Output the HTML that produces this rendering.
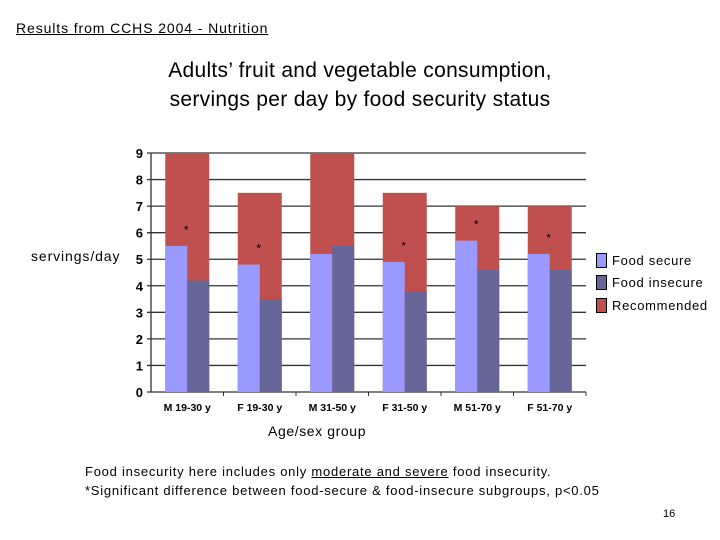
<!DOCTYPE html>
<html><head><meta charset="utf-8"><style>
body{margin:0;width:720px;height:540px;background:#fff;position:relative;overflow:hidden;font-family:"Liberation Sans","DejaVu Sans",sans-serif}
.t{position:absolute;white-space:nowrap}
</style></head><body>
<div class="t" style="left:16px;top:20px;font-size:14px;letter-spacing:0.9px;text-decoration:underline">Results from CCHS 2004 - Nutrition</div>
<div class="t" style="left:130px;top:56px;width:460px;text-align:center;font-size:21px;letter-spacing:0.3px;line-height:29px;white-space:normal">Adults’ fruit and vegetable consumption,<br>servings per day by food security status</div>
<div class="t" style="left:31px;top:248px;font-size:14px;letter-spacing:0.9px">servings/day</div>
<div class="t" style="left:268px;top:423px;font-size:14px;letter-spacing:0.6px">Age/sex group</div>
<div class="t" style="left:85px;top:462px;font-size:13px;letter-spacing:0.75px;line-height:19px">Food insecurity here includes only <u>moderate and severe</u> food insecurity.<br>*Significant difference between food-secure &amp; food-insecure subgroups, p&lt;0.05</div>
<div class="t" style="left:663px;top:508px;font-size:11px">16</div>
<svg id="c" width="720" height="540" style="position:absolute;left:0;top:0"></svg>
<div>
<div class="t" style="left:596px;top:253px;font-size:13px;letter-spacing:0.7px"><span style="display:inline-block;width:9px;height:13px;background:#9999ff;border:1px solid #000;vertical-align:-3px;margin-right:5px"></span>Food secure</div>
<div class="t" style="left:596px;top:275px;font-size:13px;letter-spacing:0.7px"><span style="display:inline-block;width:9px;height:13px;background:#666699;border:1px solid #000;vertical-align:-3px;margin-right:5px"></span>Food insecure</div>
<div class="t" style="left:596px;top:298px;font-size:13px;letter-spacing:0.7px"><span style="display:inline-block;width:9px;height:13px;background:#c0504d;border:1px solid #000;vertical-align:-3px;margin-right:5px"></span>Recommended</div>
</div>
<script>
const categories=["M 19-30 y","F 19-30 y","M 31-50 y","F 31-50 y","M 51-70 y","F 51-70 y"];
const secure=[5.5,4.8,5.2,4.9,5.7,5.2];
const insecure=[4.2,3.5,5.5,3.8,4.6,4.6];
const recommended=[9,7.5,9,7.5,7,7];
const significant=[true,true,false,true,true,true];
const yTicks=[0,1,2,3,4,5,6,7,8,9];
const svg=document.getElementById('c');const NS='http://www.w3.org/2000/svg';
const x0=151,x1=586,y0=392,y9=153,slot=(x1-x0)/categories.length,bw=22;
const ys=v=>y0-(v/9)*(y0-y9);
const xc=i=>x0+slot*(i+0.5);
function mk(t,a){const e=document.createElementNS(NS,t);for(const k in a)e.setAttribute(k,a[k]);svg.appendChild(e);return e;}
yTicks.forEach(v=>{
 const g=mk('line',{x1:x0-4,x2:x1,y1:ys(v),y2:ys(v),stroke:'#333','stroke-width':1.3});
 
 
 const t=mk('text',{x:x0-8,y:ys(v)+5,'text-anchor':'end','font-size':13,'font-weight':'bold'});t.textContent=v;
 
 
});
const ax=mk('line',{x1:x0,x2:x0,y1:y9,y2:y0,stroke:'#333','stroke-width':1.3});


categories.forEach((c,i)=>{
 const cx=xc(i);
 const r=mk('rect',{x:cx-bw,y:ys(recommended[i]),width:2*bw,height:y0-ys(recommended[i]),fill:'#c0504d'});
 
 
 const s=mk('rect',{x:cx-bw,y:ys(secure[i]),width:bw,height:y0-ys(secure[i]),fill:'#9999ff'});
 
 
 const n=mk('rect',{x:cx,y:ys(insecure[i]),width:bw,height:y0-ys(insecure[i]),fill:'#666699'});
 
 
 if(significant[i]){const a=mk('text',{x:cx-1,y:ys(Math.max(secure[i],insecure[i]))-12,'text-anchor':'middle','font-size':12});a.textContent='*';
 
 }
 const tk=mk('line',{x1:x0+slot*(i+1),x2:x0+slot*(i+1),y1:y0,y2:y0+4,stroke:'#333'});
 
 
 const l=mk('text',{x:cx,y:y0+19,'text-anchor':'middle','font-size':10.5,'font-weight':'bold'});l.textContent=c;
 
 
});
</script>
</body></html>
